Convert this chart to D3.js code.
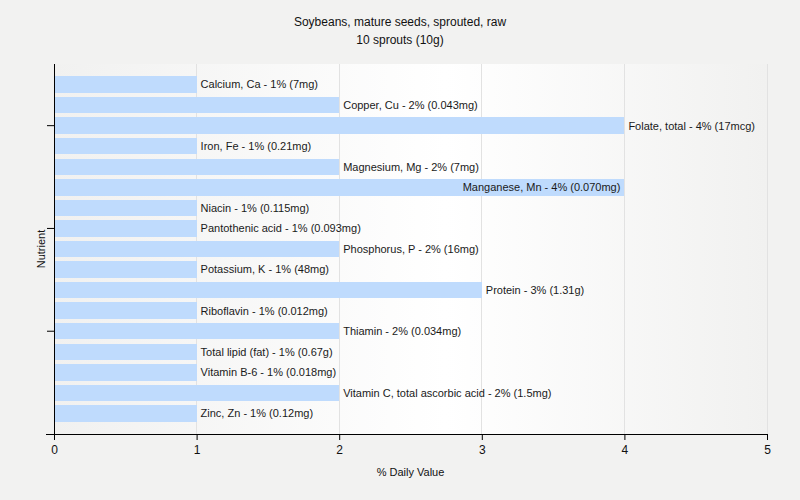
<!DOCTYPE html>
<html><head><meta charset="utf-8">
<script src="https://cdn.jsdelivr.net/npm/d3@7"></script>
<style>
body{margin:0;background:#f2f2f1;}
svg{display:block;font-family:"Liberation Sans",Arial,sans-serif;}
</style></head>
<body>
<script>
const titleLines = ["Soybeans, mature seeds, sprouted, raw", "10 sprouts (10g)"];
const nutrients = ["Calcium, Ca","Copper, Cu","Folate, total","Iron, Fe","Magnesium, Mg","Manganese, Mn","Niacin","Pantothenic acid","Phosphorus, P","Potassium, K","Protein","Riboflavin","Thiamin","Total lipid (fat)","Vitamin B-6","Vitamin C, total ascorbic acid","Zinc, Zn"];
const percents = [1,2,4,1,2,4,1,1,2,1,3,1,2,1,1,2,1];
const amounts = ["7mg","0.043mg","17mcg","0.21mg","7mg","0.070mg","0.115mg","0.093mg","16mg","48mg","1.31g","0.012mg","0.034mg","0.67g","0.018mg","1.5mg","0.12mg"];
const xTicks = [0,1,2,3,4,5];
const xTitle = "% Daily Value";
const yTitle = "Nutrient";

const W = 800, H = 500;
const m = {left:54, right:33, top:64, bottom:66};
const svg = d3.select("body").append("svg").attr("width",W).attr("height",H);

const x = d3.scaleLinear().domain([0,5]).range([m.left, W-m.right]);
const y = d3.scaleBand().domain(nutrients).range([m.top, H-m.bottom]).paddingInner(0.2).paddingOuter(0.6);

const defs = svg.append("defs");
const grad = defs.append("linearGradient").attr("id","bg").attr("x1","0").attr("x2","1").attr("y1","0").attr("y2","0");
grad.append("stop").attr("offset","0").attr("stop-color","#f1f1f0");
grad.append("stop").attr("offset","0.55").attr("stop-color","#ffffff");
grad.append("stop").attr("offset","1").attr("stop-color","#f1f1f0");

svg.append("rect").attr("x",m.left).attr("y",m.top).attr("width",x(5)-m.left).attr("height",H-m.bottom-m.top).attr("fill","url(#bg)");

// grid
svg.append("g").selectAll("line").data(xTicks.slice(1)).join("line")
  .attr("x1",d=>x(d)).attr("x2",d=>x(d)).attr("y1",m.top).attr("y2",H-m.bottom)
  .attr("stroke","#e2e2e2").attr("stroke-width",1).attr("shape-rendering","crispEdges");

// bars
const data = nutrients.map((n,i)=>({n, p:percents[i], a:amounts[i]}));
svg.append("g").selectAll("rect").data(data).join("rect")
  .attr("x",x(0)).attr("y",d=>y(d.n)).attr("width",d=>x(d.p)-x(0)).attr("height",y.bandwidth())
  .attr("fill","#bfdbfd").attr("shape-rendering","crispEdges");

// labels
const lab = svg.append("g").selectAll("text").data(data).join("text")
  .attr("y",d=>y(d.n)+y.bandwidth()/2).attr("dy","0.35em")
  .attr("font-size","11px").attr("fill","#1a1a1a")
  .text(d=>`${d.n} - ${d.p}% (${d.a})`);
lab.each(function(d){
  const len = this.getComputedTextLength();
  const end = x(d.p);
  if (end + 4 + len > x(5)) {
    d3.select(this).attr("x", end - 4).attr("text-anchor","end");
  } else {
    d3.select(this).attr("x", end + 4).attr("text-anchor","start");
  }
});

// axes
const xAxis = d3.axisBottom(x).tickValues(xTicks).tickFormat(d3.format("d")).tickSize(6).tickSizeOuter(0);
const gx = svg.append("g").attr("transform",`translate(0,${H-m.bottom})`).call(xAxis);
gx.select(".domain").attr("d",`M${m.left-8},0.5H${x(5)}`).attr("stroke","#000");
gx.selectAll(".tick line").attr("stroke","#000");
gx.selectAll(".tick text").attr("font-size","12px").attr("fill","#111").attr("dy","0.9em").attr("font-family","'Liberation Sans',Arial,sans-serif");

const yAxis = d3.axisLeft(y).tickValues(nutrients.filter((d,i)=>i%5===2)).tickFormat("").tickSize(7).tickSizeOuter(0);
const gy = svg.append("g").attr("transform",`translate(${m.left},0)`).call(yAxis);
gy.select(".domain").attr("d",`M0.5,${m.top}V${H-m.bottom+6}`).attr("stroke","#000");
gy.selectAll(".tick line").attr("stroke","#000");

// titles
svg.append("g").selectAll("text").data(titleLines).join("text")
  .attr("x",W/2).attr("y",(d,i)=>26+i*18).attr("text-anchor","middle")
  .attr("font-size","12px").attr("fill","#111").text(d=>d);

svg.append("text").attr("x",(x(0)+x(5))/2).attr("y",476).attr("text-anchor","middle")
  .attr("font-size","11px").attr("fill","#111").text(xTitle);
svg.append("text").attr("transform",`translate(45,${(m.top+H-m.bottom)/2}) rotate(-90)`).attr("text-anchor","middle")
  .attr("font-size","11px").attr("fill","#111").text(yTitle);
</script>
</body></html>
